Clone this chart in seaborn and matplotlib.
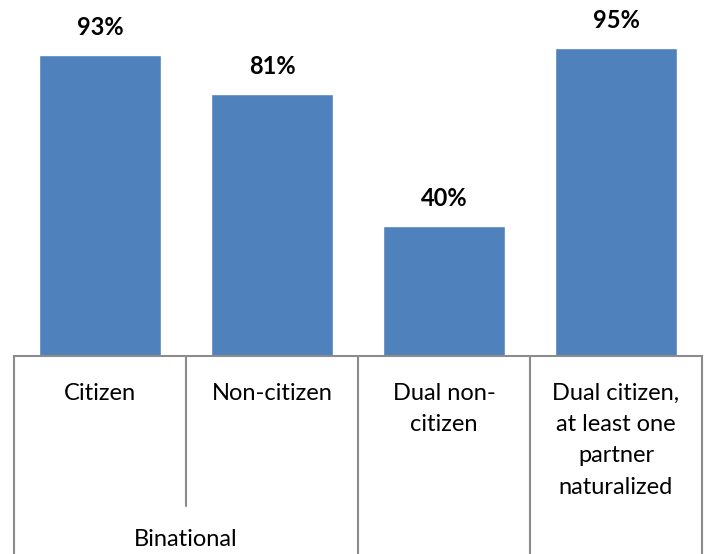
import matplotlib
matplotlib.use('Agg')
import matplotlib.pyplot as plt
import seaborn as sns
import pandas as pd

# data
categories = ['Citizen', 'Non-citizen', 'Dual non-\ncitizen',
              'Dual citizen,\nat least one\npartner\nnaturalized']
values = [93, 81, 40, 95]
group_label = 'Binational'

BAR_COLOR = '#4F81BD'
LINE_COLOR = '#8C8C8C'

sns.set_theme(style='white')
plt.rcParams['font.family'] = ['Lato', 'DejaVu Sans']
plt.rcParams['text.color'] = 'black'

df = pd.DataFrame({'category': categories, 'value': values})

W, H = 706, 554
fig = plt.figure(figsize=(W / 100, H / 100), dpi=100)
ax_left, ax_right, ax_bottom, ax_top = 14, 702, 356, 32
ax = fig.add_axes([ax_left / W, 1 - ax_bottom / H,
                   (ax_right - ax_left) / W, (ax_bottom - ax_top) / H])

sns.barplot(data=df, x='category', y='value', color=BAR_COLOR,
            saturation=1, width=0.715, ax=ax)
ax.set_xlim(-0.5, len(categories) - 0.5)
ax.set_ylim(0, 100)

for i, v in enumerate(values):
    ax.text(i, v + 8.5, f'{v}%', ha='center', va='center',
            fontsize=17, fontweight='bold', clip_on=False)

for s in ['top', 'left', 'right']:
    ax.spines[s].set_visible(False)
ax.spines['bottom'].set_color(LINE_COLOR)
ax.spines['bottom'].set_linewidth(1.5)
ax.set_xticks([])
ax.set_yticks([])
ax.set_xlabel('')
ax.set_ylabel('')

# hierarchical category axis drawn in pixel-derived axes fractions
ax_h = ax_bottom - ax_top
def px_to_axes(y_px):
    return -(y_px - ax_bottom) / ax_h

trans = ax.get_xaxis_transform()
fig_bottom = px_to_axes(H)
for b in range(len(categories) + 1):
    x = b - 0.5
    y_end = px_to_axes(506) if b == 1 else fig_bottom
    ax.plot([x, x], [0, y_end], color=LINE_COLOR, lw=1.5,
            transform=trans, clip_on=False)

for i, lab in enumerate(categories):
    ax.text(i, px_to_axes(383), lab, ha='center', va='top', fontsize=17,
            linespacing=1.6, transform=trans, clip_on=False)

ax.text(0.5, px_to_axes(540), group_label, ha='center', va='center',
        fontsize=17, transform=trans, clip_on=False)

fig.savefig('out.png', dpi=100)
